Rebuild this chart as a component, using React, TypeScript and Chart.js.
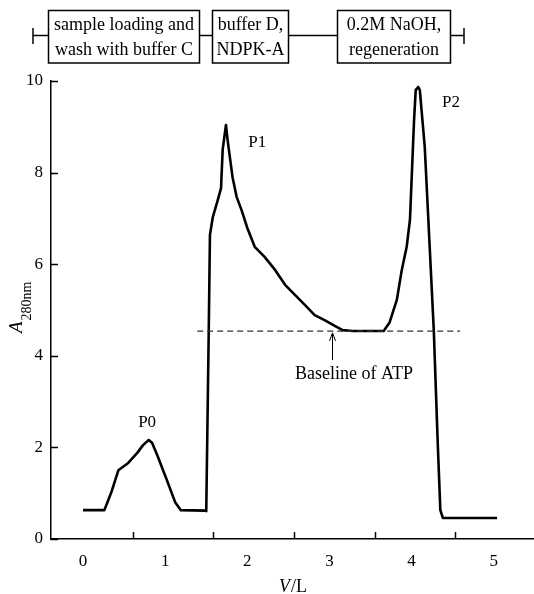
import React, { useEffect, useRef } from "react";
import { Chart, registerables } from "chart.js";

Chart.register(...registerables);

// ---- data ----
const volumeL = [
  0.0, 0.26, 0.35, 0.43, 0.55, 0.66, 0.73, 0.8, 0.84, 0.91, 1.02, 1.12, 1.19, 1.48, 1.5,
  1.53, 1.545, 1.58, 1.64, 1.68, 1.7, 1.74, 1.76, 1.82, 1.87, 1.93, 2.0, 2.09, 2.21, 2.34,
  2.46, 2.58, 2.7, 2.82, 2.94, 3.07, 3.16, 3.28, 3.66, 3.73, 3.82, 3.88, 3.94, 3.98, 4.0,
  4.03, 4.05, 4.08, 4.1, 4.16, 4.22, 4.27, 4.32, 4.35, 4.38, 4.49, 5.04,
];
const a280 = [
  0.63, 0.63, 1.05, 1.5, 1.66, 1.88, 2.05, 2.16, 2.1, 1.8, 1.29, 0.81, 0.63, 0.62, 0.61,
  4.5, 6.64, 7.03, 7.4, 7.66, 8.5, 9.04, 8.71, 7.9, 7.47, 7.18, 6.79, 6.38, 6.16, 5.87,
  5.55, 5.33, 5.11, 4.89, 4.78, 4.65, 4.56, 4.54, 4.54, 4.72, 5.22, 5.87, 6.38, 6.97, 7.84,
  9.15, 9.8, 9.87, 9.8, 8.56, 6.38, 4.56, 2.0, 0.63, 0.46, 0.46, 0.46,
];

const xTickLabels = [0, 1, 2, 3, 4, 5];
const xTickMarks = [0.61, 1.58, 2.57, 3.55, 4.53];
const yTickValues = [0, 2, 4, 6, 8, 10];

const atpBaselineValue = 4.54;
const atpBaselineFrom = 1.39;
const atpBaselineTo = 4.59;
const atpArrowX = 3.03;
const atpArrowFromY = 3.91;
const atpArrowToY = 4.5;
const atpText = "Baseline of ATP";
const atpTextX = 3.3;
const atpTextY = 3.59;

const peakNames = ["P0", "P1", "P2"];
const peakLabelX = [0.78, 2.12, 4.48];
const peakLabelY = [2.55, 8.65, 9.54];

const stepLines = [
  ["sample loading and", "wash with buffer C"],
  ["buffer D,", "NDPK-A"],
  ["0.2M NaOH,", "regeneration"],
];

const SERIF = '"Liberation Serif", "Times New Roman", serif';

const decorPlugin = {
  id: "decor",
  afterDraw(chart: any) {
    const ctx = chart.ctx as CanvasRenderingContext2D;
    const xs = chart.scales.x;
    const ys = chart.scales.y;
    const area = chart.chartArea;
    ctx.save();
    ctx.strokeStyle = "#000";
    ctx.fillStyle = "#000";

    // inward tick marks
    ctx.lineWidth = 1.5;
    ctx.beginPath();
    yTickValues.forEach((v) => {
      const py = Math.round(ys.getPixelForValue(v)) + 0.5;
      ctx.moveTo(area.left, py);
      ctx.lineTo(area.left + 7, py);
    });
    xTickMarks.forEach((v) => {
      const px = Math.round(xs.getPixelForValue(v)) + 0.5;
      ctx.moveTo(px, area.bottom);
      ctx.lineTo(px, area.bottom - 7);
    });
    ctx.stroke();

    // arrow to baseline
    const ax = Math.round(xs.getPixelForValue(atpArrowX)) + 0.5;
    const ay0 = ys.getPixelForValue(atpArrowFromY);
    const ay1 = ys.getPixelForValue(atpArrowToY);
    ctx.lineWidth = 1;
    ctx.beginPath();
    ctx.moveTo(ax, ay0);
    ctx.lineTo(ax, ay1);
    ctx.moveTo(ax - 3, ay1 + 8);
    ctx.lineTo(ax, ay1);
    ctx.lineTo(ax + 3, ay1 + 8);
    ctx.stroke();

    // text labels
    ctx.font = `18px ${SERIF}`;
    ctx.textAlign = "center";
    ctx.textBaseline = "middle";
    ctx.fillText(atpText, xs.getPixelForValue(atpTextX), ys.getPixelForValue(atpTextY));
    ctx.font = `17px ${SERIF}`;
    peakNames.forEach((n, i) => {
      ctx.fillText(n, xs.getPixelForValue(peakLabelX[i]), ys.getPixelForValue(peakLabelY[i]));
    });

    // x title: V/L
    ctx.textBaseline = "alphabetic";
    ctx.textAlign = "left";
    ctx.font = `italic 18px ${SERIF}`;
    const wV = ctx.measureText("V").width;
    ctx.font = `18px ${SERIF}`;
    const wRest = ctx.measureText("/L").width;
    const cx = (area.left + area.right) / 2;
    const startX = cx - (wV + wRest) / 2;
    ctx.font = `italic 18px ${SERIF}`;
    ctx.fillText("V", startX, 592);
    ctx.font = `18px ${SERIF}`;
    ctx.fillText("/L", startX + wV + 1, 592);

    // y title: A_280nm (rotated)
    ctx.save();
    ctx.translate(22, 333);
    ctx.rotate(-Math.PI / 2);
    ctx.font = `italic 19px ${SERIF}`;
    ctx.fillText("A", 0, 0);
    const wA = ctx.measureText("A").width;
    ctx.font = `14px ${SERIF}`;
    ctx.fillText("280nm", wA + 1, 9);
    ctx.restore();

    // top process schematic
    const lineY = 35.5;
    ctx.lineWidth = 1.5;
    ctx.beginPath();
    ctx.moveTo(33, lineY);
    ctx.lineTo(464, lineY);
    ctx.moveTo(33, 28);
    ctx.lineTo(33, 44);
    ctx.moveTo(464, 28);
    ctx.lineTo(464, 44);
    ctx.stroke();
    const boxes = [
      [48, 199],
      [212, 288],
      [337, 450],
    ];
    ctx.font = `18px ${SERIF}`;
    ctx.textAlign = "center";
    boxes.forEach(([l, r], i) => {
      ctx.fillStyle = "#fff";
      ctx.fillRect(l, 10.5, r - l, 52.5);
      ctx.strokeRect(l + 0.5, 10.5, r - l, 52.5);
      ctx.fillStyle = "#000";
      const c = (l + r) / 2 + 0.5;
      ctx.fillText(stepLines[i][0], c, 30);
      ctx.fillText(stepLines[i][1], c, 55);
    });
    ctx.restore();
  },
};

export default function App() {
  const ref = useRef<HTMLCanvasElement | null>(null);
  useEffect(() => {
    if (!ref.current) return;
    const curve = volumeL.map((v, i) => ({ x: v, y: a280[i] }));
    const baseline = [
      { x: atpBaselineFrom, y: atpBaselineValue },
      { x: atpBaselineTo, y: atpBaselineValue },
    ];
    const chart = new Chart(ref.current, {
      type: "line",
      data: {
        datasets: [
          {
            data: baseline,
            borderColor: "#333",
            borderWidth: 1.2,
            borderDash: [6, 4],
            pointRadius: 0,
            tension: 0,
          },
          {
            data: curve,
            borderColor: "#000",
            borderWidth: 2.6,
            pointRadius: 0,
            tension: 0,
            borderJoinStyle: "round",
          },
        ],
      },
      options: {
        responsive: false,
        animation: false,
        devicePixelRatio: 1,
        layout: { padding: { top: 81, left: 0, right: 0, bottom: 0 } },
        plugins: { legend: { display: false }, tooltip: { enabled: false }, title: { display: false } },
        scales: {
          x: {
            type: "linear",
            min: -0.39,
            max: 5.49,
            afterBuildTicks: (s: any) => {
              s.ticks = xTickLabels.map((v) => ({ value: v }));
            },
            afterFit: (s: any) => {
              s.height = 55;
            },
            grid: { display: false, drawTicks: false },
            border: { display: true, color: "#000", width: 1.5 },
            ticks: {
              color: "#000",
              padding: 12,
              maxRotation: 0,
              font: { family: SERIF, size: 17 },
            },
          },
          y: {
            type: "linear",
            min: 0,
            max: 10,
            afterBuildTicks: (s: any) => {
              s.ticks = yTickValues.map((v) => ({ value: v }));
            },
            afterFit: (s: any) => {
              s.width = 51;
            },
            grid: { display: false, drawTicks: false },
            border: { display: true, color: "#000", width: 1.5 },
            ticks: {
              color: "#000",
              padding: 8,
              font: { family: SERIF, size: 17 },
            },
          },
        },
      },
      plugins: [decorPlugin],
    } as any);
    return () => chart.destroy();
  }, []);
  return (
    <div style={{ position: "fixed", left: 0, top: 0, width: 534, height: 594, background: "#fff" }}>
      <canvas ref={ref} width={534} height={594} />
    </div>
  );
}
